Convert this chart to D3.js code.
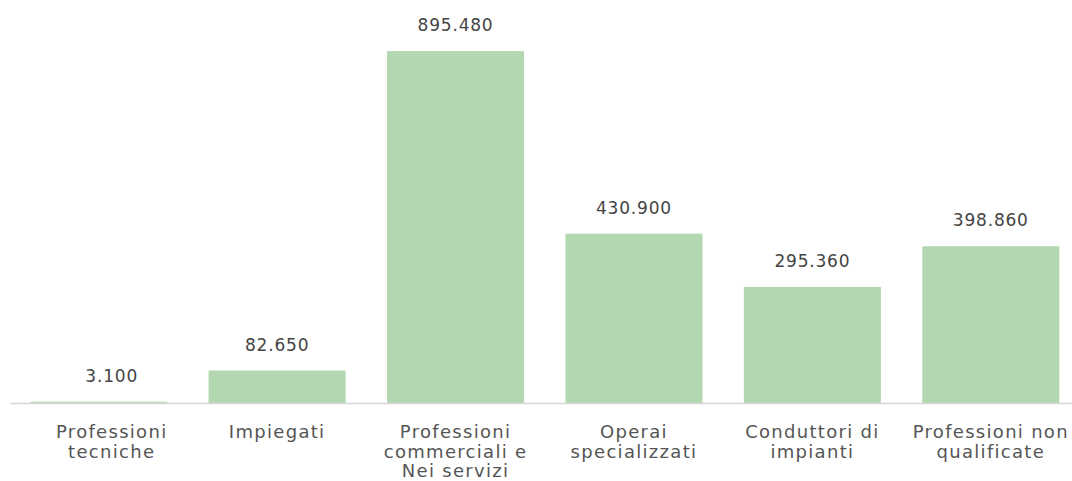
<!DOCTYPE html>
<html>
<head>
<meta charset="utf-8">
<script src="https://cdn.jsdelivr.net/npm/d3@7"></script>
<style>
  html, body { margin: 0; padding: 0; background: #fff; }
  svg { display: block; }
  text { font-family: "DejaVu Sans", Verdana, sans-serif; }
</style>
</head>
<body>
<svg id="chart" width="1072" height="481"></svg>
<script>
// ---- data ----
const categories = [
  "Professioni tecniche",
  "Impiegati",
  "Professioni commerciali e Nei servizi",
  "Operai specializzati",
  "Conduttori di impianti",
  "Professioni non qualificate"
];
const categoryLines = [
  ["Professioni", "tecniche"],
  ["Impiegati"],
  ["Professioni", "commerciali e", "Nei servizi"],
  ["Operai", "specializzati"],
  ["Conduttori di", "impianti"],
  ["Professioni non", "qualificate"]
];
const values = [3.100, 82.650, 895.480, 430.900, 295.360, 398.860];
const valueLabels = ["3.100", "82.650", "895.480", "430.900", "295.360", "398.860"];
const yDomain = [0, 1000];

// ---- layout ----
const W = 1072, H = 481;
const baseY = 403;
const svg = d3.select("#chart");

const x = d3.scaleBand()
  .domain(categories)
  .range([9.5, 1080])
  .paddingInner(0.232)
  .paddingOuter(0.116);

const y = d3.scaleLinear().domain(yDomain).range([baseY, 10]);

const firstNudge = 13; // library justification of the first column's labels

// bars
svg.append("g").selectAll("rect")
  .data(values)
  .join("rect")
  .attr("x", (d, i) => x(categories[i]))
  .attr("y", d => y(d))
  .attr("width", x.bandwidth())
  .attr("height", d => baseY - y(d))
  .attr("fill", "#b3d7b1");

// baseline
svg.append("line")
  .attr("x1", 10).attr("x2", W)
  .attr("y1", baseY + 0.5).attr("y2", baseY + 0.5)
  .attr("stroke", "#d6d6d6").attr("stroke-width", 1.5);

// value labels
svg.append("g").selectAll("text")
  .data(values)
  .join("text")
  .attr("x", (d, i) => x(categories[i]) + x.bandwidth() / 2 + (i === 0 ? firstNudge : 0))
  .attr("y", d => y(d) - 20)
  .attr("text-anchor", "middle")
  .attr("font-size", 17)
  .attr("letter-spacing", 0.8)
  .attr("fill", "#444")
  .text((d, i) => valueLabels[i]);

// category labels
const cat = svg.append("g").selectAll("text")
  .data(categories)
  .join("text")
  .attr("text-anchor", "middle")
  .attr("font-size", 18)
  .attr("letter-spacing", 1.3)
  .attr("fill", "#555")
  .attr("transform", (d, i) => `translate(${x(d) + x.bandwidth() / 2 + (i === 0 ? firstNudge : 0)},${baseY + 35})`);

cat.selectAll("tspan")
  .data((d, i) => categoryLines[i])
  .join("tspan")
  .attr("x", 0)
  .attr("dy", (d, j) => j === 0 ? 0 : 19.5)
  .text(d => d);
</script>
</body>
</html>
